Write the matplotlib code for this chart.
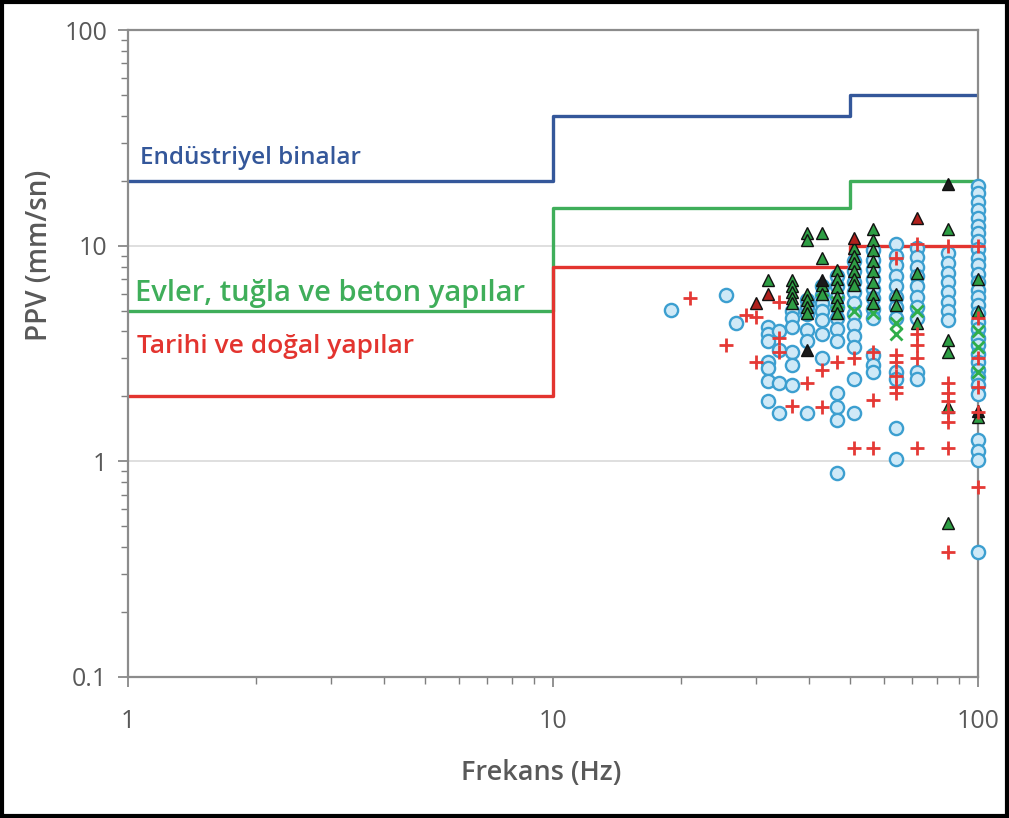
import matplotlib
matplotlib.use("Agg")
import matplotlib.pyplot as plt
from matplotlib.patches import Rectangle
from matplotlib.ticker import FixedLocator, LogLocator, NullFormatter

plt.rcParams["font.family"] = ["Open Sans", "DejaVu Sans"]

# limit curves (step at 10 Hz and 50 Hz)
limit_freq = [1, 10, 50, 100]
industrial_ppv = [20, 40, 50, 50]
houses_ppv = [5, 15, 20, 20]
historic_ppv = [2, 8, 10, 10]

# measured blasts - circles
circle_freq = (
    [19, 25.5, 27]
    + [32] * 7
    + [34] * 4
    + [36.5] * 6
    + [39.5] * 6
    + [43] * 7
    + [46.5] * 11
    + [51] * 11
    + [56.5] * 11
    + [64] * 12
    + [72] * 10
    + [85] * 8
    + [100] * 31
)
circle_ppv = (
    [5.05, 5.9, 4.4]
    + [4.2, 3.9, 3.6, 2.88, 2.7, 2.37, 1.9]
    + [4.0, 3.3, 2.3, 1.67]
    + [5.0, 4.6, 4.2, 3.2, 2.8, 2.25]
    + [5.6, 5.2, 4.8, 4.05, 3.6, 1.67]
    + [6.5, 5.9, 5.4, 5.0, 4.5, 3.9, 3.0]
    + [7.2, 6.5, 5.8, 5.2, 4.6, 4.1, 3.6, 2.07, 1.78, 1.55, 0.88]
    + [8.5, 7.6, 6.8, 6.1, 5.4, 4.8, 4.3, 3.8, 3.4, 2.4, 1.67]
    + [9.5, 8.6, 7.8, 7.0, 6.3, 5.7, 5.1, 4.6, 3.1, 2.8, 2.6]
    + [10.2, 9.0, 8.1, 7.2, 6.5, 5.8, 5.2, 4.6, 2.6, 2.4, 1.42, 1.03]
    + [9.8, 8.9, 8.0, 7.2, 6.5, 5.8, 5.2, 4.6, 2.6, 2.4]
    + [9.2, 8.3, 7.5, 6.8, 6.1, 5.5, 5.0, 4.5]
    + [19.0, 17.5, 16.0, 14.7, 13.5, 12.4, 11.4, 10.5, 9.6, 8.8, 8.1, 7.4, 6.8,
       6.25, 5.75, 5.3, 4.85, 4.45, 4.1, 3.75, 3.45, 3.15, 2.9, 2.65, 2.45,
       2.25, 2.05, 1.25, 1.12, 1.01, 0.38]
)

# measured blasts - plus signs
plus_freq = [21, 25.5, 28.5, 30, 30, 34, 34, 34, 36.5, 39.5, 43, 43, 46.5,
             51, 51, 56.5, 56.5, 56.5, 64, 64, 64, 64, 64, 64,
             72, 72, 72, 72, 72, 85, 85, 85, 85, 85, 85, 85, 85,
             100, 100, 100, 100, 100, 100]
plus_ppv = [5.7, 3.45, 4.75, 4.65, 2.88, 5.5, 3.75, 3.2, 1.8, 2.3, 2.64, 1.78, 2.9,
            3.0, 1.15, 3.2, 1.92, 1.15, 8.8, 3.1, 2.9, 2.5, 2.2, 2.07,
            10.2, 3.9, 3.45, 3.0, 1.15, 10.0, 2.3, 2.07, 1.9, 1.7, 1.52, 1.15, 0.38,
            10.0, 4.6, 3.0, 2.2, 1.7, 0.76]

# measured blasts - crosses
cross_freq = [43, 46.5, 51, 56.5, 64, 64, 72, 100, 100, 100]
cross_ppv = [6.2, 5.5, 5.0, 4.85, 4.4, 3.9, 5.0, 4.0, 3.4, 2.6]

# measured blasts - green triangles
tri_freq = ([32] + [36.5] * 5 + [39.5] * 6 + [43] * 4 + [46.5] * 6 + [51] * 6
            + [56.5] * 8 + [64] * 2 + [72] * 2 + [85] * 5 + [100] * 3)
tri_ppv = ([6.9]
           + [6.9, 6.5, 6.1, 5.7, 5.4]
           + [11.4, 10.6, 6.0, 5.6, 5.2, 4.85]
           + [11.4, 8.8, 6.6, 6.0]
           + [7.7, 7.0, 6.4, 5.8, 5.3, 4.85]
           + [9.8, 9.0, 8.3, 7.6, 7.0, 6.6]
           + [12.0, 10.6, 9.5, 8.5, 7.6, 6.8, 6.0, 5.4]
           + [6.0, 5.3]
           + [7.5, 4.4]
           + [12.0, 3.64, 3.2, 1.78, 0.52]
           + [7.0, 5.0, 1.6])

# red and black triangles
red_tri_freq = [30, 32, 51, 72]
red_tri_ppv = [5.4, 6.0, 10.9, 13.4]
black_tri_freq = [85, 43, 100, 39.5]
black_tri_ppv = [19.4, 6.9, 1.72, 3.3]

BLUE = "#34579a"
GREEN = "#3fae5a"
RED = "#e3342f"
GRAY = "#595959"

fig = plt.figure(figsize=(10.09, 8.18), dpi=100)
ax = fig.add_axes([128 / 1009, 141 / 818, 850 / 1009, 647 / 818])

ax.step(limit_freq, industrial_ppv, where="post", color=BLUE, lw=2.4, zorder=2)
ax.step(limit_freq, houses_ppv, where="post", color=GREEN, lw=2.4, zorder=2)
ax.step(limit_freq, historic_ppv, where="post", color=RED, lw=2.4, zorder=2)

ax.plot(circle_freq, circle_ppv, ls="none", marker="o", ms=9.5, mfc="#cfe9f7",
        mec="#3c9fd0", mew=1.7, zorder=3, clip_on=False)
ax.plot(cross_freq, cross_ppv, ls="none", marker="x", ms=8, mec="#2fae4a",
        mew=2, zorder=4, clip_on=False)
ax.plot(tri_freq, tri_ppv, ls="none", marker="^", ms=9, mfc="#2e9e44",
        mec="#111111", mew=1, zorder=5, clip_on=False)
ax.plot(red_tri_freq, red_tri_ppv, ls="none", marker="^", ms=9, mfc="#b0201c",
        mec="#111111", mew=1, zorder=5, clip_on=False)
ax.plot(black_tri_freq, black_tri_ppv, ls="none", marker="^", ms=9, mfc="#1a1a1a",
        mec="#111111", mew=1, zorder=5, clip_on=False)
ax.plot(plus_freq, plus_ppv, ls="none", marker="+", ms=10, mec="#e53935",
        mew=2, zorder=6, clip_on=False)

ax.set_xscale("log")
ax.set_yscale("log")
ax.set_xlim(1, 100)
ax.set_ylim(0.1, 100)

ax.yaxis.set_major_locator(FixedLocator([0.1, 1, 10, 100]))
ax.set_yticklabels(["0.1", "1", "10", "100"])
ax.xaxis.set_major_locator(FixedLocator([1, 10, 100]))
ax.set_xticklabels(["1", "10", "100"])
ax.xaxis.set_minor_locator(LogLocator(base=10, subs=range(2, 10)))
ax.yaxis.set_minor_locator(LogLocator(base=10, subs=range(2, 10)))
ax.xaxis.set_minor_formatter(NullFormatter())
ax.yaxis.set_minor_formatter(NullFormatter())

ax.tick_params(axis="both", which="major", direction="out", length=7, width=1.2,
               color="#7f7f7f", labelsize=18, labelcolor=GRAY)
ax.tick_params(axis="both", which="minor", direction="out", length=5, width=1,
               color="#7f7f7f")
ax.tick_params(axis="x", which="major", pad=16)
ax.tick_params(axis="y", which="major", pad=8)

for val in [1, 10]:
    ax.axhline(val, color="#d9d9d9", lw=1.2, zorder=1)

for side in ["left", "bottom", "top", "right"]:
    ax.spines[side].set_color("#8c8c8c")
    ax.spines[side].set_linewidth(1.6)

ax.text(1.07, 25.4, "Endüstriyel binalar", color=BLUE, fontsize=17.5,
        fontweight="semibold", va="center", ha="left")
ax.text(1.04, 6.0, "Evler, tuğla ve beton yapılar", color=GREEN, fontsize=21,
        fontweight="semibold", va="center", ha="left")
ax.text(1.05, 3.41, "Tarihi ve doğal yapılar", color=RED, fontsize=19,
        fontweight="semibold", va="center", ha="left")

ax.set_xlabel("Frekans (Hz)", fontsize=19.5, fontweight="semibold", color=GRAY,
              labelpad=18)
ax.xaxis.label.set_x(0.486)
fig.text(40 / 1009, 1 - 255 / 818, "PPV (mm/sn)", rotation=90, fontsize=20,
         fontweight="semibold", color=GRAY, ha="center", va="center")

fig.patches.append(Rectangle((0.002, 0.002), 0.996, 0.996, transform=fig.transFigure,
                             fill=False, edgecolor="black", lw=3))

fig.savefig("out.png", dpi=100)
